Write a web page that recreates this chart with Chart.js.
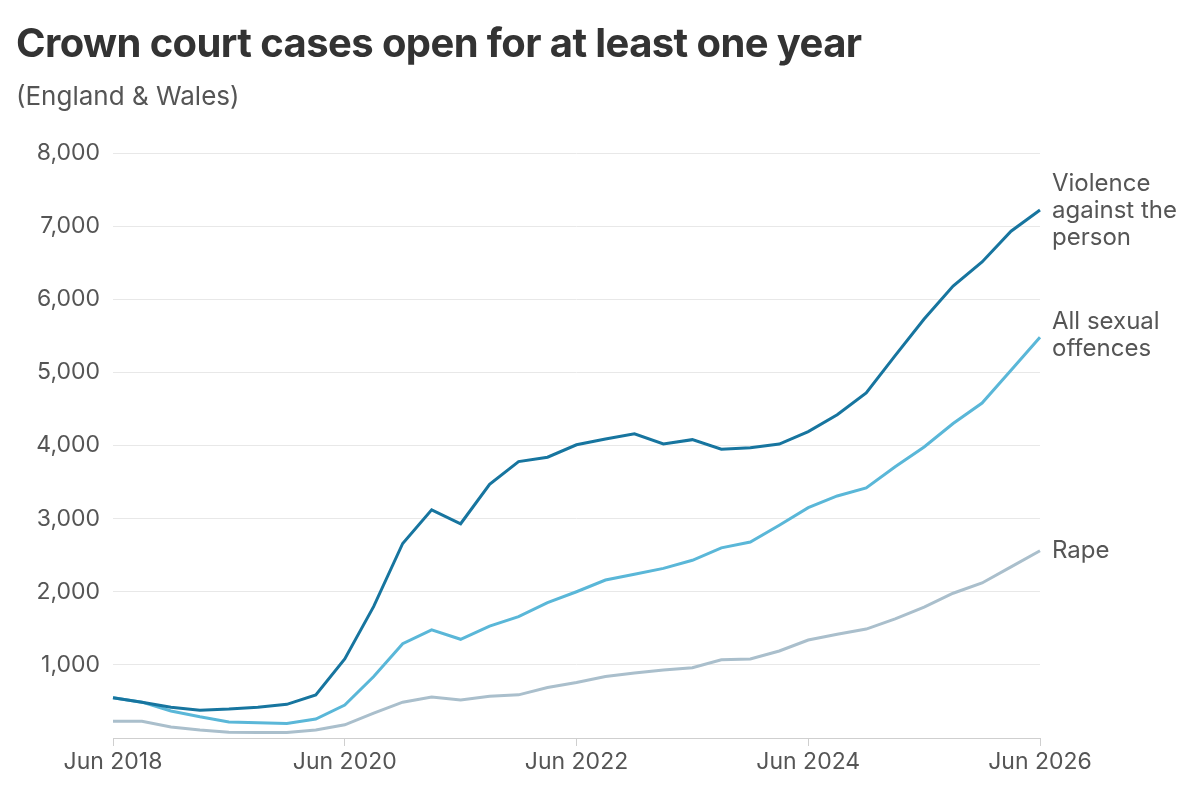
<!DOCTYPE html>
<html>
<head>
<meta charset="utf-8">
<script src="https://cdn.jsdelivr.net/npm/chart.js@4"></script>
<style>
  body { margin: 0; background: #fff; font-family: Inter, "Noto Sans", sans-serif; }
  #wrap { position: relative; width: 1200px; height: 800px; }
  h1 { position: absolute; left: 16px; top: 18px; margin: 0; font-size: 40px; font-weight: 700; color: #333; letter-spacing: -0.6px; }
  .sub { position: absolute; left: 16px; top: 80px; font-size: 26px; color: #555; }
  canvas { position: absolute; left: 0; top: 0; }
</style>
</head>
<body>
<div id="wrap">
  <canvas id="c" width="1200" height="800"></canvas>
  <h1>Crown court cases open for at least one year</h1>
  <div class="sub">(England &amp; Wales)</div>
</div>
<script>
// quarterly, Jun 2018 to Jun 2026
const quarters = [];
for (let y = 2018; y <= 2026; y++) {
    for (const m of ['Mar', 'Jun', 'Sep', 'Dec']) {
        if (y === 2018 && m === 'Mar') continue;
        if (y === 2026 && (m === 'Sep' || m === 'Dec')) continue;
        quarters.push(m + ' ' + y);
    }
}
const tickLabels = ['Jun 2018', 'Jun 2020', 'Jun 2022', 'Jun 2024', 'Jun 2026'];

const violence = [550, 490, 420, 380, 395, 420, 460, 590, 1080, 1800, 2660, 3120, 2930, 3470, 3780, 3840, 4010,
    4090, 4160, 4020, 4080, 3950, 3970, 4020, 4190, 4420, 4720, 5230, 5730, 6180, 6510, 6930, 7220];
const sexual = [550, 490, 370, 290, 220, 210, 200, 260, 450, 840, 1290, 1480, 1350, 1530, 1660, 1850, 2000,
    2160, 2240, 2320, 2430, 2600, 2680, 2910, 3150, 3310, 3420, 3710, 3980, 4300, 4580, 5030, 5480];
const rape = [230, 230, 150, 110, 80, 75, 75, 110, 180, 340, 490, 560, 520, 570, 590, 690, 760,
    840, 890, 930, 960, 1070, 1080, 1190, 1340, 1420, 1490, 1630, 1790, 1980, 2120, 2340, 2560];

const seriesNames = [['Violence', 'against the', 'person'], ['All sexual', 'offences'], ['Rape']];

const endLabels = {
    id: 'endLabels',
    afterDatasetsDraw(chart) {
        const ctx = chart.ctx;
        ctx.save();
        ctx.font = '24px Inter, "Noto Sans", sans-serif';
        ctx.fillStyle = '#555';
        ctx.textBaseline = 'middle';
        const nudges = [-26, -15, 0];
        chart.data.datasets.forEach((ds, i) => {
            const pt = chart.getDatasetMeta(i).data[ds.data.length - 1];
            seriesNames[i].forEach((t, j) => {
                ctx.fillText(t, pt.x + 12, pt.y + nudges[i] + j * 27);
            });
        });
        ctx.restore();
    }
};

new Chart(document.getElementById('c'), {
    type: 'line',
    data: {
        labels: quarters,
        datasets: [
            { data: violence, borderColor: '#17759f', borderWidth: 3, pointRadius: 0, tension: 0 },
            { data: sexual, borderColor: '#5ab7d8', borderWidth: 3, pointRadius: 0, tension: 0 },
            { data: rape, borderColor: '#aabfcc', borderWidth: 3, pointRadius: 0, tension: 0 }
        ]
    },
    options: {
        responsive: false,
        animation: false,
        layout: { padding: { top: 153, right: 160, left: 0, bottom: 0 } },
        plugins: { legend: { display: false }, tooltip: { enabled: false } },
        scales: {
            x: {
                afterFit: s => { s.height = 62; },
                border: { color: '#cfcfcf' },
                grid: {
                    drawOnChartArea: false,
                    tickLength: 8,
                    color: c => tickLabels.includes(quarters[c.index]) ? '#cfcfcf' : 'rgba(0,0,0,0)'
                },
                ticks: {
                    autoSkip: false,
                    maxRotation: 0,
                    padding: 2,
                    color: '#555',
                    font: { size: 23, family: 'Inter, "Noto Sans", sans-serif' },
                    callback: (v, i) => tickLabels.includes(quarters[i]) ? quarters[i] : ''
                }
            },
            y: {
                min: 0,
                max: 8000,
                afterFit: s => { s.width = 113; },
                border: { display: false },
                grid: { color: '#e8e8e8', drawTicks: false },
                ticks: {
                    stepSize: 1000,
                    padding: 13,
                    color: '#555',
                    font: { size: 23, family: 'Inter, "Noto Sans", sans-serif' },
                    callback: v => v === 0 ? '' : v.toLocaleString('en-GB')
                }
            }
        }
    },
    plugins: [endLabels]
});
</script>
</body>
</html>
